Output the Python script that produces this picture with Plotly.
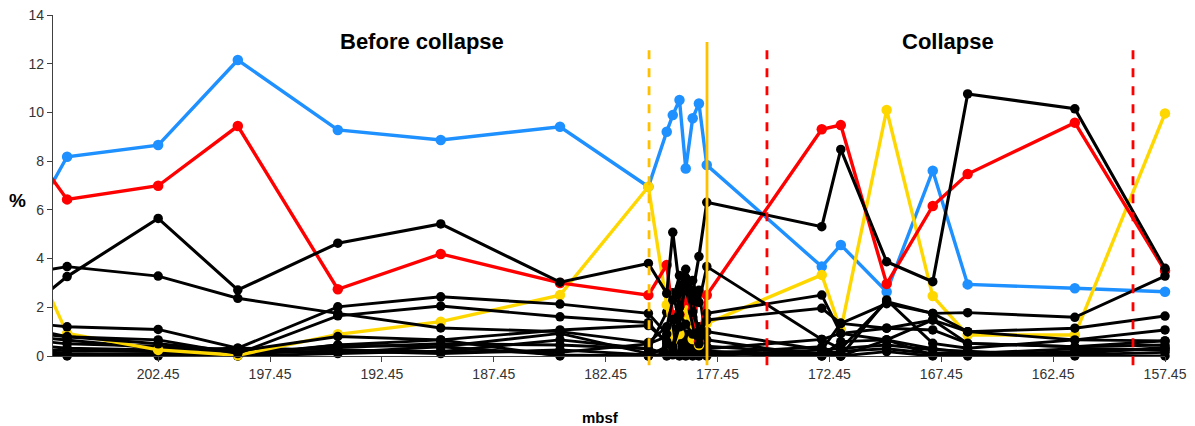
import plotly.graph_objects as go

# depth samples (mbsf); the first one lies just beyond the visible axis range
mbsf = [207.6, 206.52, 202.45, 198.89, 194.42, 189.82, 184.49, 180.54, 179.72, 179.45, 179.15,
        178.87, 178.56, 178.28, 177.93, 172.79, 171.94, 169.89, 167.83, 166.27, 161.48, 157.45]

blue = [6.4, 8.18, 8.66, 12.15, 9.28, 8.87, 9.41, 6.95, 9.21, 9.89, 10.51,
        7.70, 9.76, 10.37, 7.84, 3.67, 4.56, 2.64, 7.61, 2.94, 2.78, 2.64]
red = [7.8, 6.43, 6.99, 9.44, 2.74, 4.19, 3.0, 2.50, 3.74, 1.68, 1.7,
       2.3, 1.89, 0.59, 2.5, 9.31, 9.48, 2.96, 6.16, 7.47, 9.58, 3.5]
yellow = [3.1, 0.93, 0.25, 0.03, 0.89, 1.41, 2.50, 6.95, 2.1, 0.38, 0.9,
          1.9, 0.7, 0.45, 1.34, 3.33, 1.07, 10.1, 2.46, 0.86, 0.86, 9.96]

black_a = [2.45, 3.26, 5.65, 2.71, 4.63, 5.42, 3.03, 3.80, 2.57, 5.08, 2.8,
           3.56, 2.6, 4.08, 6.31, 5.31, 8.48, 3.87, 3.05, 10.76, 10.15, 3.6]
black_b = [3.5, 3.67, 3.28, 2.37, 1.75, 1.15, 1.0, 0.55, 1.2, 2.3, 3.3,
           2.9, 3.1, 2.2, 3.67, 0.68, 0.3, 2.23, 1.75, 1.78, 1.59, 3.28]
black_c = [1.3, 1.20, 1.09, 0.32, 2.02, 2.43, 2.13, 1.75, 0.9, 1.5, 2.0,
           2.7, 1.8, 1.0, 1.75, 2.5, 0.93, 0.66, 1.48, 1.0, 0.66, 0.62]
black_d = [1.0, 0.79, 0.66, 0.1, 1.65, 2.05, 1.61, 1.37, 0.5, 0.3, 1.2,
           3.2, 2.4, 0.8, 1.48, 1.96, 1.34, 1.14, 1.07, 0.52, 0.38, 0.45]
black_e = [0.9, 0.79, 0.5, 0.2, 0.8, 0.66, 1.07, 1.25, 0.6, 0.4, 1.7,
           1.3, 0.9, 0.5, 1.0, 0.25, 1.34, 2.15, 1.75, 1.0, 1.14, 1.64]
black_f = [0.75, 0.66, 0.32, 0.0, 0.45, 0.38, 0.93, 0.1, 0.3, 0.9, 0.4,
           2.2, 0.6, 0.2, 0.66, 0.0, 0.0, 2.3, 0.52, 0.32, 0.66, 1.07]
black_g = [0.4, 0.32, 0.25, 0.32, 0.25, 0.18, 0.66, 0.3, 0.1, 0.7, 0.2,
           0.9, 0.3, 0.1, 0.3, 0.68, 0.93, 1.14, 1.48, 0.52, 0.38, 0.62]
black_h = [0.25, 0.22, 0.18, 0.1, 0.2, 0.1, 0.25, 0.05, 0.0, 0.15, 0.5,
           0.1, 0.0, 0.3, 0.1, 0.0, 0.59, 0.66, 0.04, 0.04, 0.18, 0.3]
black_i = [0.12, 0.04, 0.1, 0.2, 0.15, 0.38, 0.04, 0.0, 0.1, 0.05, 0.0,
           0.0, 0.2, 0.05, 0.0, 0.25, 0.3, 0.45, 0.25, 0.2, 0.0, 0.0]
black_j = [0.05, 0.0, 0.0, 0.05, 0.45, 0.66, 0.0, 0.0, 0.4, 1.0, 0.3,
           0.4, 1.3, 0.0, 0.1, 0.38, 0.0, 0.18, 0.0, 0.0, 0.05, 0.15]
black_k = [0.6, 0.5, 0.4, 0.15, 0.35, 0.5, 0.45, 0.3, 1.8, 2.6, 1.4,
           3.2, 2.0, 2.7, 0.4, 0.1, 0.0, 0.66, 0.3, 0.15, 0.1, 0.35]
black_l = [0.2, 0.1, 0.05, 0.0, 0.1, 0.2, 0.15, 0.5, 0.8, 1.1, 2.5,
           0.6, 1.6, 1.2, 0.2, 0.05, 0.2, 0.3, 0.1, 0.1, 0.3, 0.25]

# x-axis ticks
tick_vals = [202.45, 197.45, 192.45, 187.45, 182.45, 177.45, 172.45, 167.45, 162.45, 157.45]
tick_text = ["202.45", "197.45", "192.45", "187.45", "182.45", "177.45", "172.45", "167.45", "162.45", "157.45"]

# boundary lines (mbsf)
orange_dashed = [180.51]
orange_solid = [177.92]
red_dashed = [175.24, 158.88]

x_range = [207.15, 157.45]

fig = go.Figure()


def add_series(values, color, lw, ms):
    sizes = [0] + [ms] * (len(values) - 1)
    fig.add_trace(go.Scatter(
        x=mbsf, y=values, mode="lines+markers",
        line=dict(color=color, width=lw),
        marker=dict(color=color, size=sizes, opacity=1, line=dict(width=0)),
        cliponaxis=False, showlegend=False, hoverinfo="x+y"))


BLACK_LW, BLACK_MS = 2.9, 9.5
add_series(blue, "#1E90FF", 3.4, 10.5)
for s in [black_l, black_k, black_j, black_i, black_h, black_g, black_f]:
    add_series(s, "#000000", BLACK_LW, BLACK_MS)
add_series(yellow, "#FFD700", 3.4, 10.5)
add_series(red, "#FF0000", 3.4, 10.5)
for s in [black_e, black_d, black_c, black_b]:
    add_series(s, "#000000", BLACK_LW, BLACK_MS)
add_series(black_a, "#000000", 3.1, BLACK_MS)

shapes = []
line_y0, line_y1 = -0.027, 0.921
for xv in orange_dashed:
    shapes.append(dict(type="line", xref="x", yref="paper", x0=xv, x1=xv, y0=line_y0, y1=line_y1,
                       line=dict(color="#FFC000", width=2.8, dash="dash")))
for xv in orange_solid:
    shapes.append(dict(type="line", xref="x", yref="paper", x0=xv, x1=xv, y0=line_y0, y1=line_y1,
                       line=dict(color="#FFC000", width=2.8)))
for xv in red_dashed:
    shapes.append(dict(type="line", xref="x", yref="paper", x0=xv, x1=xv, y0=line_y0, y1=line_y1,
                       line=dict(color="#FF0000", width=2.8, dash="dash")))

font_fam = "Liberation Sans, Arial, sans-serif"
annotations = [
    dict(text="<b>Before collapse</b>", x=190.65, y=12.9, xref="x", yref="y", showarrow=False,
         font=dict(size=22, color="#000000", family=font_fam)),
    dict(text="<b>Collapse</b>", x=167.15, y=12.9, xref="x", yref="y", showarrow=False,
         font=dict(size=22, color="#000000", family=font_fam)),
    dict(text="<b>%</b>", x=-0.032, y=0.457, xref="paper", yref="paper", showarrow=False,
         xanchor="center", yanchor="middle",
         font=dict(size=19, color="#000000", family=font_fam)),
    dict(text="<b>mbsf</b>", x=0.492, y=-0.18, xref="paper", yref="paper", showarrow=False,
         xanchor="center", yanchor="middle",
         font=dict(size=15, color="#000000", family=font_fam)),
]

fig.update_layout(
    width=1195, height=426,
    margin=dict(l=53, r=30, t=15, b=70, autoexpand=False),
    paper_bgcolor="white", plot_bgcolor="white",
    font=dict(family=font_fam, size=14, color="#404040"),
    shapes=shapes, annotations=annotations,
    showlegend=False,
)
fig.update_xaxes(range=x_range, tickvals=tick_vals, ticktext=tick_text, automargin=False,
                 showgrid=False, zeroline=False, showline=True, linecolor="#404040", linewidth=1.3,
                 ticks="outside", ticklen=5, tickcolor="#404040",
                 tickfont=dict(size=14, color="#333333"))
fig.update_yaxes(range=[0, 14], tickvals=[0, 2, 4, 6, 8, 10, 12, 14], automargin=False,
                 showgrid=False, zeroline=False, showline=True, linecolor="#404040", linewidth=1.3,
                 ticks="outside", ticklen=5, tickcolor="#404040",
                 tickfont=dict(size=14, color="#333333"))

# remove the browser's default 8px body margin so the figure sits at the window origin
fig.write_html("out.html", config={"displayModeBar": False},
               post_script="document.body.style.margin='0px';document.body.style.overflow='hidden';")
